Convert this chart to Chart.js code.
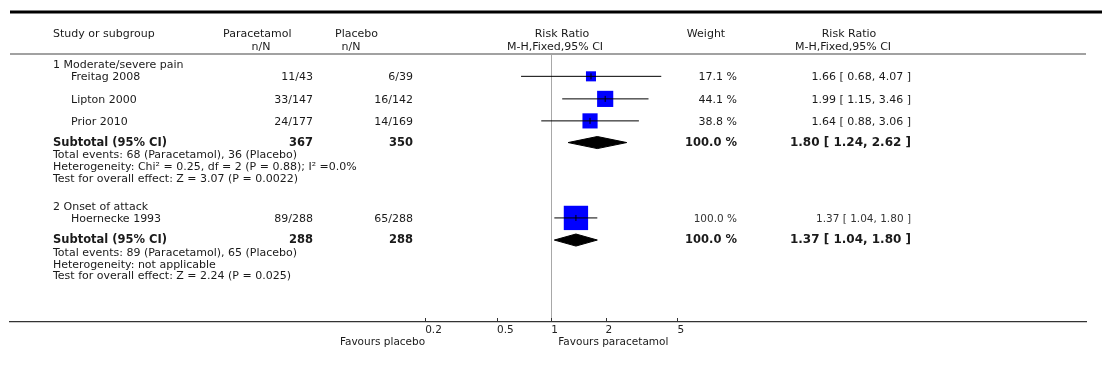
<!DOCTYPE html>
<html>
<head>
<meta charset="utf-8">
<script src="https://cdn.jsdelivr.net/npm/chart.js@4.4.0/dist/chart.umd.min.js"></script>
<style>
  html, body { margin: 0; padding: 0; background: #fff; }
</style>
</head>
<body>
<canvas id="forest" width="1102" height="377"></canvas>
<script>
var studies = ['Freitag 2008', 'Lipton 2000', 'Prior 2010', 'Hoernecke 1993'];
var paraEvents = [11, 33, 24, 89];
var paraTotal = [43, 147, 177, 288];
var placEvents = [6, 16, 14, 65];
var placTotal = [39, 142, 169, 288];
var riskRatio = [1.66, 1.99, 1.64, 1.37];
var ciLow = [0.68, 1.15, 0.88, 1.04];
var ciHigh = [4.07, 3.46, 3.06, 1.80];
var weights = [17.1, 44.1, 38.8, 100.0];

var groups = ['1 Moderate/severe pain', '2 Onset of attack'];
var subParaTotal = [367, 288];
var subPlacTotal = [350, 288];
var subParaEvents = [68, 89];
var subPlacEvents = [36, 65];
var subRR = [1.80, 1.37];
var subLow = [1.24, 1.04];
var subHigh = [2.62, 1.80];
var subWeight = [100.0, 100.0];
var heterogeneity = ['Heterogeneity: Chi\u00b2 = 0.25, df = 2 (P = 0.88); I\u00b2 =0.0%', 'Heterogeneity: not applicable'];
var overallEffect = ['Test for overall effect: Z = 3.07 (P = 0.0022)', 'Test for overall effect: Z = 2.24 (P = 0.025)'];

var tickValues = [0.2, 0.5, 1, 2, 5];
var tickLabels = ['0.2', '0.5', '1', '2', '5'];
var favours = ['Favours placebo', 'Favours paracetamol'];

// layout: row positions in text lines, y scale runs 0..24 from header rule down to the axis
var groupRow = [1.03, 13.7];
var studyRow = [2.0, 4.02, 5.99, 14.68];
var subRow = [7.93, 16.66];
var infoOffset = [1.16, 2.21, 3.25];

var FONT = '"DejaVu Sans"';
var INK = '#1a1a1a';

function fmt(v) { return v.toFixed(2); }
function ciText(rr, lo, hi) { return fmt(rr) + ' [ ' + fmt(lo) + ', ' + fmt(hi) + ' ]'; }

var datasets = [];
studies.forEach(function (s, i) {
    var y = studyRow[i];
    datasets.push({
        data: [{x: ciLow[i], y: y}, {x: ciHigh[i], y: y}],
        showLine: true, borderColor: '#000', borderWidth: 1, pointRadius: 0, order: 1
    });
    datasets.push({
        data: [{x: riskRatio[i], y: y}],
        pointStyle: 'line', rotation: 90, pointRadius: 3,
        borderColor: '#000', borderWidth: 1, order: 0
    });
    datasets.push({
        data: [{x: riskRatio[i], y: y}],
        pointStyle: 'rect', pointRadius: 1.72 * Math.sqrt(weights[i]),
        backgroundColor: '#0000ff', borderColor: '#0000ff', borderWidth: 0, order: 2
    });
});

groups.forEach(function (g, k) {
    var y = subRow[k], h = 0.54;
    datasets.push({
        data: [
            {x: subLow[k], y: y}, {x: subRR[k], y: y - h},
            {x: subHigh[k], y: y}, {x: subRR[k], y: y + h}, {x: subLow[k], y: y}
        ],
        showLine: true, fill: 'shape', backgroundColor: '#000', borderColor: '#000',
        borderWidth: 1, pointRadius: 0, order: 1
    });
});

function put(ctx, s, x, y, font, align, color) {
    ctx.font = font;
    ctx.textAlign = align;
    ctx.fillStyle = color || INK;
    ctx.fillText(s, x, y);
}

var forestDecor = {
    id: 'forestDecor',
    beforeDatasetsDraw: function (chart) {
        var ctx = chart.ctx, xs = chart.scales.x, a = chart.chartArea;
        var px = Math.round(xs.getPixelForValue(1)) + 0.5;
        ctx.save();
        ctx.strokeStyle = '#a8a8a8';
        ctx.lineWidth = 1;
        ctx.beginPath();
        ctx.moveTo(px, a.top + 1);
        ctx.lineTo(px, a.bottom);
        ctx.stroke();
        ctx.restore();
    },
    afterDraw: function (chart) {
        var ctx = chart.ctx, xs = chart.scales.x, ys = chart.scales.y, a = chart.chartArea;
        ctx.save();

        // rules
        ctx.strokeStyle = '#000';
        ctx.lineWidth = 3;
        ctx.beginPath(); ctx.moveTo(10, 12); ctx.lineTo(1102, 12); ctx.stroke();
        ctx.strokeStyle = '#444';
        ctx.lineWidth = 1.2;
        ctx.beginPath(); ctx.moveTo(a.left, a.top); ctx.lineTo(a.right, a.top); ctx.stroke();

        // tick marks pointing up from the axis
        ctx.strokeStyle = '#333';
        ctx.lineWidth = 1;
        tickValues.forEach(function (v) {
            var px = Math.round(xs.getPixelForValue(v)) + 0.5;
            ctx.beginPath(); ctx.moveTo(px, a.bottom); ctx.lineTo(px, a.bottom - 4); ctx.stroke();
        });

        ctx.textBaseline = 'middle';
        var f = '11px ' + FONT, fb = 'bold 11.5px ' + FONT, fr = 'bold 12px ' + FONT;

        // headers
        put(ctx, 'Study or subgroup', 53, 34, f, 'left');
        put(ctx, 'Paracetamol', 223, 34, f, 'left');
        put(ctx, 'n/N', 261, 47, f, 'center');
        put(ctx, 'Placebo', 335, 34, f, 'left');
        put(ctx, 'n/N', 351, 47, f, 'center');
        put(ctx, 'Risk Ratio', 562, 34, f, 'center');
        put(ctx, 'M-H,Fixed,95% CI', 555, 47, f, 'center');
        put(ctx, 'Weight', 706, 34, f, 'center');
        put(ctx, 'Risk Ratio', 849, 34, f, 'center');
        put(ctx, 'M-H,Fixed,95% CI', 843, 47, f, 'center');

        // groups
        groups.forEach(function (g, k) {
            put(ctx, g, 53, ys.getPixelForValue(groupRow[k]), f, 'left');
            var sy = ys.getPixelForValue(subRow[k]);
            put(ctx, 'Subtotal (95% CI)', 53, sy, fb, 'left');
            put(ctx, String(subParaTotal[k]), 313, sy, fb, 'right');
            put(ctx, String(subPlacTotal[k]), 413, sy, fb, 'right');
            put(ctx, subWeight[k].toFixed(1) + ' %', 737, sy, fb, 'right');
            put(ctx, ciText(subRR[k], subLow[k], subHigh[k]), 911, sy, fr, 'right');
            var info = [
                'Total events: ' + subParaEvents[k] + ' (Paracetamol), ' + subPlacEvents[k] + ' (Placebo)',
                heterogeneity[k],
                overallEffect[k]
            ];
            info.forEach(function (s, j) {
                put(ctx, s, 53, ys.getPixelForValue(subRow[k] + infoOffset[j]), f, 'left');
            });
        });

        // studies
        studies.forEach(function (s, i) {
            var y = ys.getPixelForValue(studyRow[i]) + 1;
            var last = i === studies.length - 1;
            var fs = last ? '10.5px ' + FONT : f;
            var col = last ? '#333' : INK;
            put(ctx, s, 71, y, f, 'left');
            put(ctx, paraEvents[i] + '/' + paraTotal[i], 313, y, f, 'right');
            put(ctx, placEvents[i] + '/' + placTotal[i], 413, y, f, 'right');
            put(ctx, weights[i].toFixed(1) + ' %', 737, y, fs, 'right', col);
            put(ctx, ciText(riskRatio[i], ciLow[i], ciHigh[i]), 911, y, fs, 'right', col);
        });

        // favours labels
        var fy = a.bottom + 20;
        put(ctx, favours[0], xs.getPixelForValue(tickValues[0]), fy, '10.5px ' + FONT, 'right');
        put(ctx, favours[1], xs.getPixelForValue(1) + 7, fy, '10.5px ' + FONT, 'left');

        ctx.restore();
    }
};

var forestChart = new Chart(document.getElementById('forest'), {
    type: 'scatter',
    data: { datasets: datasets },
    options: {
        responsive: false,
        animation: false,
        events: [],
        layout: { autoPadding: false, padding: { left: 10, right: 16, top: 54, bottom: 0 } },
        plugins: { legend: { display: false }, tooltip: { enabled: false } },
        scales: {
            x: {
                type: 'logarithmic',
                min: 0.001,
                max: 920,
                afterBuildTicks: function (scale) {
                    scale.ticks = tickValues.map(function (v) { return { value: v }; });
                },
                afterFit: function (scale) {
                    scale.height = 55;
                    scale.paddingLeft = 0;
                    scale.paddingRight = 0;
                },
                grid: { drawOnChartArea: false, drawTicks: false },
                border: { display: true, color: '#333', width: 1.2 },
                ticks: {
                    autoSkip: false,
                    maxRotation: 0,
                    align: 'start',
                    padding: 2,
                    color: '#222',
                    font: { family: 'DejaVu Sans', size: 10.5 },
                    callback: function (v, i) { return tickLabels[i]; }
                }
            },
            y: { type: 'linear', reverse: true, min: 0, max: 24, display: false }
        }
    },
    plugins: [forestDecor]
});
</script>
</body>
</html>
